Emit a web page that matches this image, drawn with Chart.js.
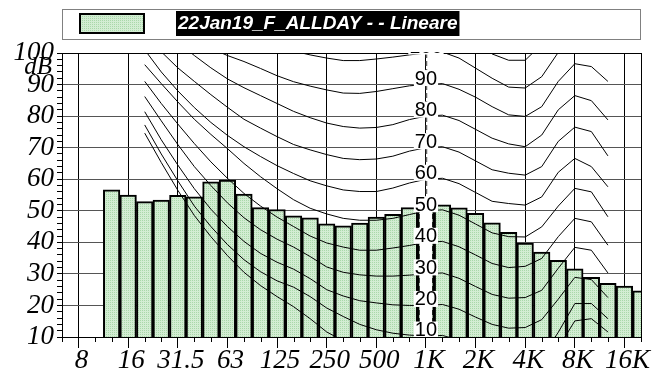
<!DOCTYPE html>
<html>
<head>
<meta charset="utf-8">
<script src="https://cdn.jsdelivr.net/npm/chart.js@4.4.1/dist/chart.umd.min.js"></script>
<style>
  html, body { margin: 0; padding: 0; background: #fff; }
  #wrap { position: relative; width: 653px; height: 379px; }
</style>
</head>
<body>
<div id="wrap"><canvas id="chart" width="653" height="379"></canvas></div>
<script>
// third-octave bands on the x axis (index = position)
const bands = [6.3, 8, 10, 12.5, 16, 20, 25, 31.5, 40, 50, 63, 80, 100, 125, 160, 200, 250, 315,
  400, 500, 630, 800, 1000, 1250, 1600, 2000, 2500, 3150, 4000, 5000, 6300, 8000, 10000, 12500, 16000, 20000];
const octaveLabels = ["8", "16", "31.5", "63", "125", "250", "500", "1K", "2K", "4K", "8K", "16K"];

// measured spectrum
const seriesName = "22Jan19_F_ALLDAY - - Lineare";
const barFreqs = [12.5, 16, 20, 25, 31.5, 40, 50, 63, 80, 100, 125, 160, 200, 250, 315, 400, 500, 630,
  800, 1000, 1250, 1600, 2000, 2500, 3150, 4000, 5000, 6300, 8000, 10000, 12500, 16000, 20000];
const barLevels = [56.6, 55.0, 52.9, 53.4, 54.9, 54.4, 59.2, 59.7, 55.3, 51.0, 50.4, 48.4, 47.8, 45.9, 45.2, 46.1, 48.0, 48.9,
  51.0, 51.5, 51.9, 50.9, 49.2, 46.2, 43.2, 39.8, 36.9, 34.3, 31.6, 28.9, 27.0, 26.1, 24.6];

// equal loudness contours
const contourFreqs = [20, 25, 31.5, 40, 50, 63, 80, 100, 125, 160, 200, 250, 315, 400, 500, 630, 800,
  1000, 1250, 1600, 2000, 2500, 3150, 4000, 5000, 6300, 8000, 10000, 12500];
const phon0 = [74.6, 65.3, 56.5, 48.5, 41.8, 35.8, 30.5, 26.3, 22.8, 19.6, 15.8, 11.6, 8.8, 7.2, 6.0, 5.0, 4.4,
  4.2, 3.7, 2.6, 1.0, -1.2, -3.6, -3.9, -1.1, 6.6, 15.1, 15.8, 11.6];
const phon10 = [77.2, 68.0, 59.5, 51.5, 45.0, 39.3, 34.5, 30.7, 27.8, 25.8, 22.8, 19.2, 16.5, 14.0, 12.3, 11.2, 10.6,
  10.3, 10.5, 9.0, 6.5, 3.5, 1.0, 0.8, 3.5, 11.5, 20.6, 20.6, 15.8];
const phon20 = [81.4, 72.5, 64.5, 57.0, 50.5, 45.0, 40.3, 36.5, 33.7, 31.5, 28.5, 25.0, 23.0, 21.5, 20.8, 20.2, 20.0,
  20.0, 20.3, 18.8, 16.3, 14.0, 12.8, 13.0, 15.5, 22.0, 28.9, 28.2, 22.5];
const phon30 = [86.2, 78.5, 71.0, 64.0, 58.0, 52.5, 47.8, 44.0, 41.0, 38.5, 35.5, 32.2, 30.5, 29.7, 29.3, 29.3, 29.6,
  30.0, 30.3, 28.6, 26.0, 23.5, 22.3, 22.5, 24.8, 31.8, 38.4, 37.5, 30.3];
const phon40 = [91.0, 84.0, 77.5, 71.3, 65.5, 60.3, 55.5, 51.5, 48.0, 45.0, 42.0, 39.8, 38.5, 37.5, 37.5, 38.2, 39.0,
  40.0, 40.3, 38.6, 36.0, 33.3, 32.0, 32.4, 34.9, 41.8, 47.6, 46.5, 39.1];
const phon50 = [96.3, 90.3, 84.5, 79.0, 74.2, 69.7, 65.0, 60.8, 57.0, 53.5, 50.8, 49.0, 47.6, 47.0, 47.0, 47.6, 48.8,
  50.0, 50.3, 48.6, 45.8, 43.0, 41.8, 41.7, 44.9, 51.5, 57.1, 56.0, 48.1];
const phon60 = [101.0, 94.0, 88.0, 82.7, 78.0, 73.9, 70.3, 67.2, 64.3, 61.8, 59.5, 57.9, 56.6, 56.1, 56.1, 57.2, 58.8,
  60.0, 60.3, 58.6, 55.8, 53.0, 52.3, 51.8, 54.4, 62.2, 66.6, 64.0, 57.6];
const phon70 = [106.0, 100.4, 95.3, 91.0, 86.8, 82.8, 79.0, 76.2, 73.5, 71.0, 69.3, 67.8, 66.6, 66.2, 66.4, 67.3, 68.9,
  70.0, 70.3, 68.6, 65.8, 63.0, 61.9, 61.3, 64.0, 72.0, 76.5, 75.1, 67.4];
const phon80 = [111.5, 107.5, 103.5, 99.2, 95.3, 91.8, 89.0, 86.5, 84.0, 81.5, 79.5, 77.8, 76.7, 76.2, 76.4, 77.3, 78.9,
  80.0, 80.3, 78.6, 75.8, 73.0, 71.2, 70.3, 74.0, 82.0, 86.5, 84.9, 78.8];
const phon90 = [116.0, 112.0, 108.0, 104.5, 101.5, 99.2, 97.3, 95.1, 92.8, 90.9, 89.5, 88.3, 87.3, 87.2, 87.8, 88.7, 89.6,
  90.0, 90.3, 88.5, 86.0, 83.0, 80.4, 79.9, 83.0, 91.0, 96.6, 95.7, 91.0];
const phon100 = [129.0, 125.0, 121.0, 117.5, 114.0, 111.0, 108.0, 105.0, 102.5, 100.6, 99.4, 98.4, 97.6, 97.6, 98.1, 98.7, 99.4,
  100.0, 100.3, 98.4, 95.2, 92.0, 89.2, 88.9, 92.5, 100.2, 106.5, 105.5, 101.0];
const phon110 = [134.0, 130.0, 126.0, 122.0, 119.0, 116.0, 114.0, 112.0, 110.5, 109.5, 109.0, 108.5, 108.0, 108.0, 108.5, 109.0, 109.5,
  110.0, 110.3, 108.0, 104.0, 99.7, 97.7, 97.7, 102.8, 110.0, 116.0, 115.0, 111.0];
const contourPhons = [0, 10, 20, 30, 40, 50, 60, 70, 80, 90, 100, 110];
const contourLevels = [phon0, phon10, phon20, phon30, phon40, phon50, phon60, phon70, phon80, phon90, phon100, phon110];

const bandIndex = f => bands.indexOf(f);
const isOctave = v => (v - 1) % 3 === 0;
const tickVal = c => (c && c.tick ? c.tick.value : NaN);

// fine dotted light green fill
function makeFill() {
  const c = document.createElement("canvas");
  c.width = 2; c.height = 2;
  const g = c.getContext("2d");
  g.fillStyle = "#d3edd3"; g.fillRect(0, 0, 2, 2);
  g.fillStyle = "#aad8aa"; g.fillRect(0, 0, 1, 1);
  return g.createPattern(c, "repeat");
}
const barFill = makeFill();

const datasets = [{
  type: "bar",
  label: seriesName,
  data: barFreqs.map((f, i) => ({ x: bandIndex(f), y: barLevels[i] })),
  backgroundColor: barFill,
  borderColor: "#000",
  borderWidth: 2,
  borderSkipped: false,
  barPercentage: 1,
  categoryPercentage: 1,
  clip: 0,
  order: 2,
}];
contourLevels.forEach((lv, k) => {
  datasets.push({
    type: "line",
    label: contourPhons[k] + " phon",
    data: contourFreqs.map((f, i) => ({ x: bandIndex(f), y: lv[i] })),
    borderColor: "#000",
    borderWidth: 1,
    pointRadius: 0,
    tension: 0,
    fill: false,
    clip: 0,
    order: 1,
  });
});

const serifIt = '"Liberation Serif", "Times New Roman", serif';
const sans = '"Liberation Sans", Arial, sans-serif';

const decorations = {
  id: "decorations",
  beforeDatasetsDraw(chart) {
    const { ctx, chartArea: a, scales: { x } } = chart;
    const xk = Math.round(x.getPixelForValue(bandIndex(1000))) + 0.5;
    ctx.save();
    ctx.strokeStyle = "#666";
    ctx.lineWidth = 1.5;
    ctx.setLineDash([5, 3]);
    ctx.beginPath();
    ctx.moveTo(xk, a.top);
    ctx.lineTo(xk, a.bottom);
    ctx.stroke();
    ctx.restore();
  },
  afterDatasetsDraw(chart) {
    const { ctx, chartArea: a, scales: { y } } = chart;
    const k1 = contourFreqs.indexOf(1000);
    const bar = chart.getDatasetMeta(0).data[barFreqs.indexOf(1000)];
    const xk = bar.x;
    ctx.save();
    ctx.beginPath();
    ctx.rect(a.left, a.top - 1, a.right - a.left, a.bottom - a.top + 1);
    ctx.clip();
    // the 1K band is shown as an open column with dashed sides
    const l = bar.x - bar.width / 2, r = bar.x + bar.width / 2;
    ctx.fillStyle = "#fff";
    ctx.fillRect(l + 2, bar.y + 2, r - l - 4, a.bottom - bar.y);
    ctx.strokeStyle = "#000";
    ctx.lineWidth = 2;
    ctx.setLineDash([5, 3]);
    ctx.beginPath();
    ctx.moveTo(l + 1, bar.y); ctx.lineTo(l + 1, a.bottom);
    ctx.moveTo(r - 1, bar.y); ctx.lineTo(r - 1, a.bottom);
    ctx.stroke();
    ctx.setLineDash([]);
    // contour labels at 1 kHz
    ctx.font = "20px " + sans;
    ctx.textAlign = "center";
    ctx.textBaseline = "middle";
    contourPhons.forEach((p, i) => {
      if (p < 10 || p > 100) return;
      const py = y.getPixelForValue(contourLevels[i][k1]) - 6.5;
      const t = String(p);
      const w = ctx.measureText(t).width + 2;
      ctx.fillStyle = "#fff";
      ctx.fillRect(xk - w / 2, py - 8, w, 16);
      ctx.fillStyle = "#000";
      ctx.fillText(t, xk, py + 1);
    });
    ctx.restore();
  },
  afterDraw(chart) {
    const { ctx, chartArea: a, scales: { x } } = chart;
    ctx.save();
    // right border
    ctx.strokeStyle = "#000";
    ctx.lineWidth = 1;
    ctx.beginPath();
    ctx.moveTo(a.right + 0.5, a.top);
    ctx.lineTo(a.right + 0.5, a.bottom);
    ctx.stroke();
    // short ticks for the third-octave bands
    ctx.beginPath();
    bands.forEach((f, i) => {
      if (isOctave(i)) return;
      const px = Math.round(x.getPixelForValue(i)) + 0.5;
      ctx.moveTo(px, a.bottom);
      ctx.lineTo(px, a.bottom + 5);
    });
    ctx.stroke();
    // unit under the top label
    ctx.fillStyle = "#000";
    ctx.font = "italic 25px " + serifIt;
    ctx.textAlign = "right";
    ctx.textBaseline = "middle";
    ctx.fillText("dB", 52, 67);
    // legend
    ctx.strokeStyle = "#808080";
    ctx.lineWidth = 1;
    ctx.strokeRect(62.5, 9.5, 578, 30);
    ctx.fillStyle = barFill;
    ctx.fillRect(79, 13, 66, 21);
    ctx.strokeStyle = "#000";
    ctx.lineWidth = 2;
    ctx.strokeRect(80, 14, 64, 19);
    ctx.font = "italic bold 19px " + sans;
    ctx.textAlign = "left";
    const tw = ctx.measureText(seriesName).width;
    ctx.fillStyle = "#000";
    ctx.fillRect(176, 11, tw + 4, 25);
    ctx.fillStyle = "#fff";
    ctx.fillText(seriesName, 178, 24);
    ctx.restore();
  },
};

new Chart(document.getElementById("chart"), {
  type: "bar",
  data: { datasets },
  options: {
    responsive: false,
    devicePixelRatio: 1,
    animation: false,
    events: [],
    layout: { padding: { top: 53, right: 12, left: 0, bottom: 0 } },
    plugins: { legend: { display: false }, title: { display: false }, tooltip: { enabled: false } },
    scales: {
      x: {
        type: "linear",
        offset: false,
        min: 0,
        max: bands.length - 1,
        afterFit: (s) => { s.height = 42; },
        grid: {
          offset: false,
          color: (c) => (isOctave(tickVal(c)) ? "#000" : "rgba(0,0,0,0)"),
          tickColor: (c) => (isOctave(tickVal(c)) ? "#000" : "rgba(0,0,0,0)"),
          tickLength: 11,
          lineWidth: 1,
        },
        border: { color: "#000", width: 1 },
        ticks: {
          stepSize: 1,
          autoSkip: false,
          maxRotation: 0,
          padding: -3,
          labelOffset: 3,
          color: "#000",
          font: { family: serifIt, style: "italic", size: 27 },
          callback: (v) => (isOctave(v) ? octaveLabels[(v - 1) / 3] : ""),
        },
      },
      y: {
        min: 10,
        max: 100,
        afterFit: (s) => { s.width = 62; },
        grid: {
          color: (c) => {
            const v = tickVal(c);
            if (v === 10 || v === 100) return "#000";
            return v % 10 === 0 ? "#555" : "rgba(0,0,0,0)";
          },
          tickColor: "#000",
          tickLength: 5,
          lineWidth: 1,
        },
        border: { color: "#000", width: 1 },
        ticks: {
          stepSize: 2,
          autoSkip: false,
          padding: 3,
          color: "#000",
          font: { family: serifIt, style: "italic", size: 27 },
          callback: (v) => (v % 10 === 0 ? String(v) : ""),
        },
      },
    },
  },
  plugins: [decorations],
});
</script>
</body>
</html>
